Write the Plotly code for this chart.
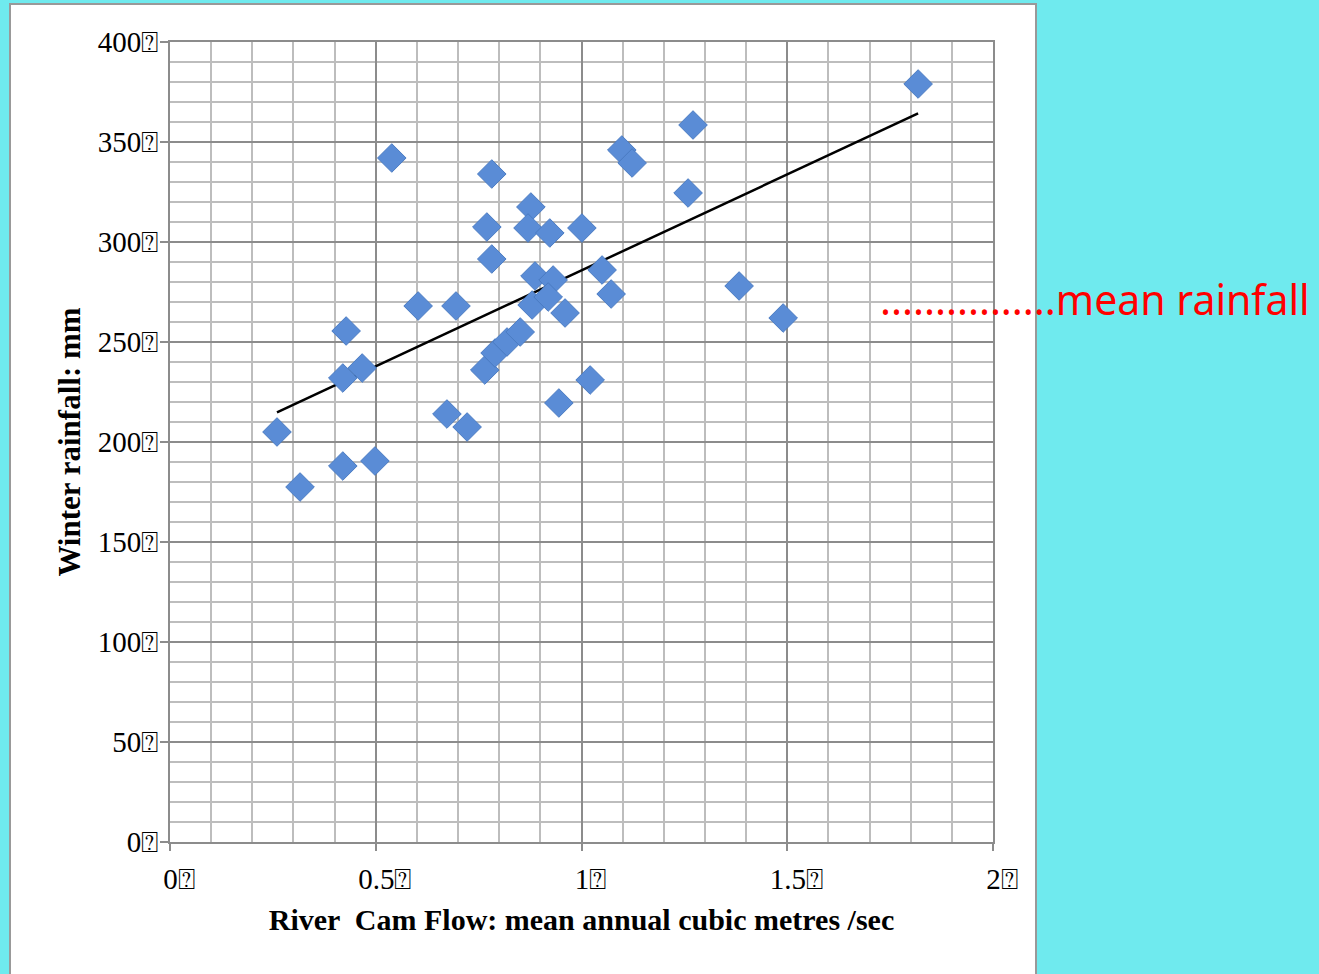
import numpy as np
import plotly.graph_objects as go

# Data
flow = [0.260, 0.316, 0.420, 0.498, 0.420, 0.467, 0.428, 0.539, 0.603, 0.695,
        0.673, 0.722, 0.770, 0.782, 0.782, 0.765, 0.790, 0.819, 0.851, 0.877,
        0.870, 0.887, 0.880, 0.923, 0.931, 0.919, 0.960, 0.945, 1.001, 1.021,
        1.050, 1.072, 1.098, 1.123, 1.259, 1.271, 1.383, 1.490, 1.818]
rain = [205, 177.5, 188, 190.5, 232, 237, 255.5, 342, 268, 268,
        214, 207.5, 307.5, 334, 291.5, 236, 244.5, 250, 255, 317.5,
        307, 283, 268.5, 304.5, 281, 272.5, 264.5, 219.5, 307, 231,
        286, 274, 346, 339.5, 324.5, 358.5, 278, 262, 379]

x_ticks = [0, 0.5, 1, 1.5, 2]
x_labels = ["0", "0.5", "1", "1.5", "2"]
y_ticks = [0, 50, 100, 150, 200, 250, 300, 350, 400]
y_labels = ["0", "50", "100", "150", "200", "250", "300", "350", "400"]
BOX = "\u2370"

# linear trendline (least squares)
slope, intercept = np.polyfit(flow, rain, 1)
tx = [min(flow), max(flow)]
ty = [slope * v + intercept for v in tx]

W, H = 1319, 974
L, R, T, B = 170, 993, 42, 842

fig = go.Figure()
fig.add_trace(go.Scatter(x=tx, y=ty, mode="lines",
                         line=dict(color="black", width=2.5),
                         hoverinfo="skip", showlegend=False))
fig.add_trace(go.Scatter(x=flow, y=rain, mode="markers",
                         marker=dict(symbol="diamond", size=22, color="#5A8CD6",
                                     line=dict(color="#4A7BC2", width=1)),
                         showlegend=False))

major = "#8C8C8C"
minor = "#BDBDBD"
tickfont = dict(family="Liberation Serif", size=29, color="black")

fig.update_xaxes(range=[0, 2], tickvals=x_ticks, ticktext=[t + BOX for t in x_labels],
                 showgrid=True, gridcolor=major, gridwidth=2,
                 minor=dict(dtick=0.1, showgrid=True, gridcolor=minor, gridwidth=1.5),
                 ticks="outside", ticklen=7, tickwidth=2, tickcolor=major,
                 showline=True, linecolor=major, linewidth=2, mirror=True,
                 zeroline=False, tickfont=tickfont, ticklabelstandoff=3,
                 ticklabelshift=9,
                 title=dict(text="<b>River  Cam Flow: mean annual cubic metres /sec</b>",
                            font=dict(family="Liberation Serif", size=30, color="black"),
                            standoff=15))
fig.update_yaxes(range=[0, 400], tickvals=y_ticks, ticktext=[t + BOX for t in y_labels],
                 showgrid=True, gridcolor=major, gridwidth=2,
                 minor=dict(dtick=10, showgrid=True, gridcolor=minor, gridwidth=1.5),
                 ticks="outside", ticklen=8, tickwidth=2, tickcolor=major,
                 showline=True, linecolor=major, linewidth=2, mirror=True,
                 zeroline=False, tickfont=tickfont, ticklabelstandoff=-4,
                 title=dict(text="<b>Winter rainfall: mm</b>",
                            font=dict(family="Liberation Serif", size=31, color="black"),
                            standoff=8))

pw, ph = R - L, B - T
def px2paper_x(px):
    return (px - L) / pw
def py2paper_y(py):
    return (B - py) / ph

fig.add_shape(type="rect", xref="paper", yref="paper",
              x0=px2paper_x(10), x1=px2paper_x(1036), y0=py2paper_y(990), y1=py2paper_y(4),
              fillcolor="white", line=dict(color="#999999", width=2), layer="below")

fig.add_annotation(xref="paper", yref="paper", x=px2paper_x(878), y=py2paper_y(299),
                   xanchor="left", yanchor="middle", showarrow=False,
                   text="................mean rainfall",
                   font=dict(family="Noto Sans", size=41, color="#FF0000"))

fig.update_layout(width=W, height=H,
                  margin=dict(l=L, r=W - R, t=T, b=H - B, autoexpand=False),
                  paper_bgcolor="#6FEAEE", plot_bgcolor="white")

fig.write_html("out.html", config={"displayModeBar": False},
               post_script="document.body.style.margin='0';document.body.style.overflow='hidden';")
